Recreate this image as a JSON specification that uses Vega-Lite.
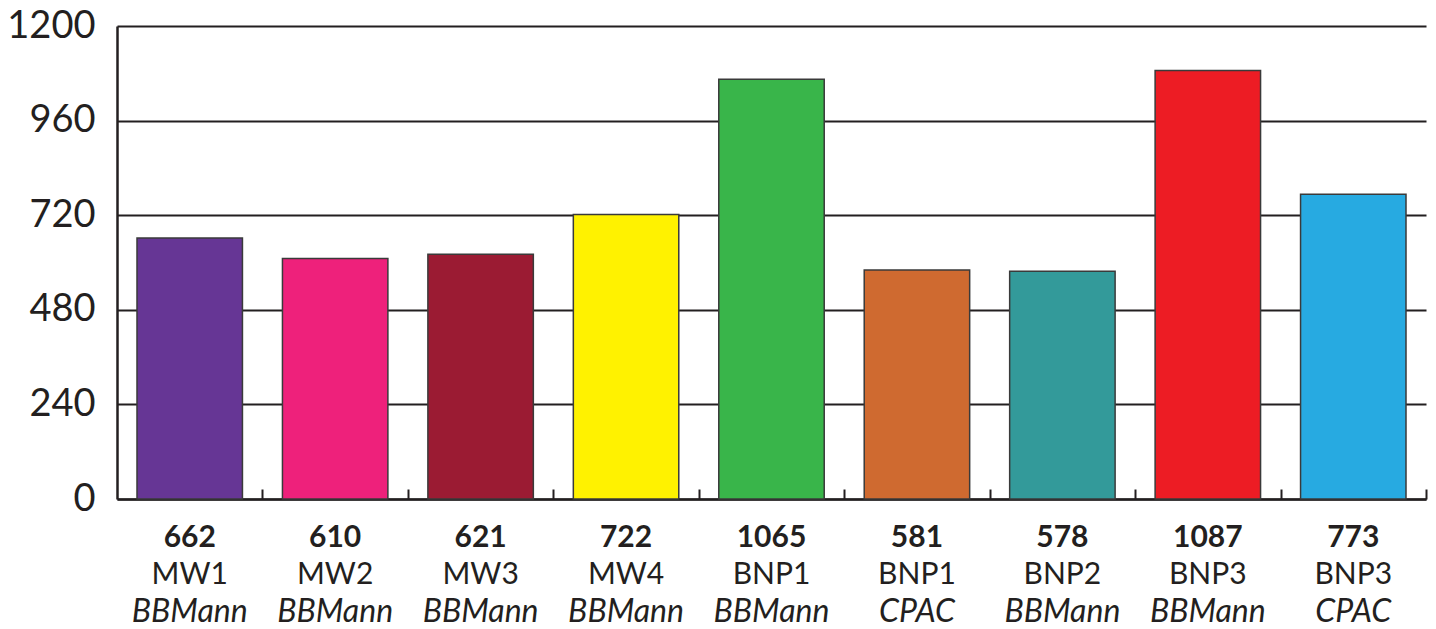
{
  "$schema": "https://vega.github.io/schema/vega-lite/v6.json",
  "autosize": {"type": "none"},
  "width": 1309,
  "height": 473,
  "padding": {"left": 117, "top": 26, "right": 10, "bottom": 130},
  "background": "white",
  "config": {
    "view": {"stroke": null},
    "font": "Lato"
  },
  "data": {
    "values": [
      {"key": "MW1 BBMann", "name": "MW1", "method": "BBMann", "value": 662},
      {"key": "MW2 BBMann", "name": "MW2", "method": "BBMann", "value": 610},
      {"key": "MW3 BBMann", "name": "MW3", "method": "BBMann", "value": 621},
      {"key": "MW4 BBMann", "name": "MW4", "method": "BBMann", "value": 722},
      {"key": "BNP1 BBMann", "name": "BNP1", "method": "BBMann", "value": 1065},
      {"key": "BNP1 CPAC", "name": "BNP1", "method": "CPAC", "value": 581},
      {"key": "BNP2 BBMann", "name": "BNP2", "method": "BBMann", "value": 578},
      {"key": "BNP3 BBMann", "name": "BNP3", "method": "BBMann", "value": 1087},
      {"key": "BNP3 CPAC", "name": "BNP3", "method": "CPAC", "value": 773}
    ]
  },
  "encoding": {
    "x": {
      "field": "key",
      "type": "nominal",
      "sort": null,
      "scale": {"paddingInner": 0.275, "paddingOuter": 0.1375},
      "axis": {
        "title": null,
        "labels": false,
        "domain": true,
        "domainColor": "#231f20",
        "domainWidth": 2.5,
        "ticks": true,
        "bandPosition": 1,
        "tickOffset": 20,
        "tickSize": -10,
        "tickColor": "#231f20",
        "tickWidth": 2
      }
    }
  },
  "layer": [
    {
      "mark": {"type": "bar", "stroke": "#3a3a3a", "strokeWidth": 1.5},
      "encoding": {
        "y": {
          "field": "value",
          "type": "quantitative",
          "scale": {"domain": [0, 1200], "nice": false, "zero": true},
          "axis": {
            "title": null,
            "values": [0, 240, 480, 720, 960, 1200],
            "format": "d",
            "grid": true,
            "gridColor": "#231f20",
            "gridWidth": 2,
            "gridOpacity": 1,
            "domain": true,
            "domainColor": "#231f20",
            "domainWidth": 2.5,
            "ticks": false,
            "labelPadding": 22,
            "labelFontSize": 38,
            "labelColor": "#231f20",
            "labelFont": "Lato"
          }
        },
        "color": {
          "field": "key",
          "type": "nominal",
          "sort": null,
          "legend": null,
          "scale": {
            "domain": ["MW1 BBMann", "MW2 BBMann", "MW3 BBMann", "MW4 BBMann", "BNP1 BBMann", "BNP1 CPAC", "BNP2 BBMann", "BNP3 BBMann", "BNP3 CPAC"],
            "range": ["#663695", "#ee217b", "#9b1b33", "#fff200", "#39b54a", "#cf6a30", "#339a9a", "#ed1c24", "#27aae1"]
          }
        }
      }
    },
    {
      "mark": {"type": "text", "dy": 39, "baseline": "middle", "fontSize": 30, "fontWeight": "bold", "color": "#231f20", "font": "Lato"},
      "encoding": {
        "y": {"datum": 0, "type": "quantitative"},
        "text": {"field": "value", "type": "quantitative"}
      }
    },
    {
      "mark": {"type": "text", "dy": 76, "baseline": "middle", "fontSize": 30, "color": "#231f20", "font": "Lato"},
      "encoding": {
        "y": {"datum": 0, "type": "quantitative"},
        "text": {"field": "name", "type": "nominal"}
      }
    },
    {
      "mark": {"type": "text", "dy": 113, "baseline": "middle", "fontSize": 32, "fontStyle": "italic", "color": "#231f20", "font": "Lato"},
      "encoding": {
        "y": {"datum": 0, "type": "quantitative"},
        "text": {"field": "method", "type": "nominal"}
      }
    }
  ]
}
